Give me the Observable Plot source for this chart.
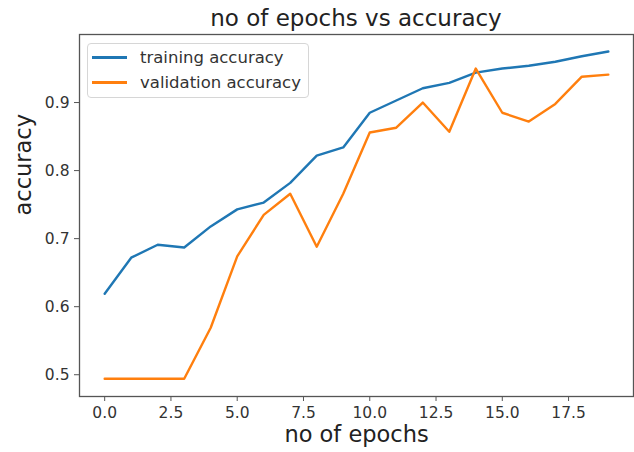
<!DOCTYPE html>
<html>
<head>
<meta charset="utf-8">
<script src="https://cdn.jsdelivr.net/npm/d3@7"></script>
<script src="https://cdn.jsdelivr.net/npm/@observablehq/plot@0.6"></script>
<style>
  html, body { margin: 0; padding: 0; background: #fff; }
  #wrap { position: relative; width: 634px; height: 452px; font-family: "DejaVu Sans", sans-serif; }
  #title { height: 34px; width: 634px; position: relative; }
  #title span { position: absolute; left: 356px; top: 7px; transform: translateX(-50%); font-size: 23px; line-height: 23px; color: #222; white-space: nowrap; }
  #legend { position: absolute; left: 87px; top: 43px; width: 220px; height: 53px; border: 1px solid #d6d6d6; border-radius: 4px; background: rgba(255,255,255,0.85); }
  .item { position: absolute; left: 0; height: 20px; font-size: 16.5px; line-height: 20px; color: #333; white-space: nowrap; }
  .item .sw { position: absolute; left: 4px; top: 8px; width: 35px; height: 2.5px; }
  .item .lb { position: absolute; left: 52px; top: 0px; }
</style>
</head>
<body>
<div id="wrap">
  <div id="title"><span>no of epochs vs accuracy</span></div>
  <div id="chart"></div>
  <div id="legend"></div>
</div>
<script>
const epochs = [0,1,2,3,4,5,6,7,8,9,10,11,12,13,14,15,16,17,18,19];
const trainingAccuracy = [0.619,0.672,0.691,0.687,0.718,0.743,0.753,0.782,0.822,0.834,0.885,0.903,0.921,0.929,0.944,0.950,0.954,0.960,0.968,0.975];
const validationAccuracy = [0.494,0.494,0.494,0.494,0.569,0.674,0.735,0.766,0.688,0.766,0.856,0.863,0.900,0.857,0.950,0.885,0.872,0.898,0.938,0.941];
const seriesNames = ["training accuracy", "validation accuracy"];
const seriesColors = ["#1f77b4", "#ff7f0e"];
const xTicks = [0, 2.5, 5, 7.5, 10, 12.5, 15, 17.5];
const yTicks = [0.5, 0.6, 0.7, 0.8, 0.9];

const rows = [];
epochs.forEach((e, i) => {
  rows.push({epoch: e, acc: trainingAccuracy[i], series: seriesNames[0]});
  rows.push({epoch: e, acc: validationAccuracy[i], series: seriesNames[1]});
});

const chart = Plot.plot({
  width: 634,
  height: 418,
  marginTop: 0,
  marginLeft: 79,
  marginRight: 1,
  marginBottom: 56,
  style: {fontFamily: "DejaVu Sans, sans-serif", color: "#333", background: "transparent", overflow: "visible"},
  x: {domain: [-0.95, 19.95]},
  y: {domain: [0.468, 1.0]},
  color: {domain: seriesNames, range: seriesColors},
  marks: [
    Plot.frame({stroke: "#555", strokeWidth: 1.3}),
    Plot.axisX({ticks: xTicks, tickFormat: d3.format(".1f"), tickSize: 5, tickPadding: 5, fontSize: 15.5, label: null, stroke: "#555"}),
    Plot.axisY({ticks: yTicks, tickFormat: d3.format(".1f"), tickSize: 5, tickPadding: 5, fontSize: 15.5, label: null, stroke: "#555"}),
    Plot.line(rows, {x: "epoch", y: "acc", z: "series", stroke: "series", strokeWidth: 2.4}),
    Plot.text(["accuracy"], {frameAnchor: "left", dx: -56, rotate: -90, fontSize: 22.5, fill: "#222"}),
    Plot.text(["no of epochs"], {frameAnchor: "bottom", dy: 45, fontSize: 22.5, fill: "#222"})
  ]
});
document.getElementById("chart").appendChild(chart);

const legend = document.getElementById("legend");
seriesNames.forEach((name, i) => {
  const item = document.createElement("div");
  item.className = "item";
  item.style.top = (4 + i * 25) + "px";
  item.innerHTML = `<div class="sw" style="background:${seriesColors[i]}"></div><div class="lb">${name}</div>`;
  legend.appendChild(item);
});
</script>
</body>
</html>
